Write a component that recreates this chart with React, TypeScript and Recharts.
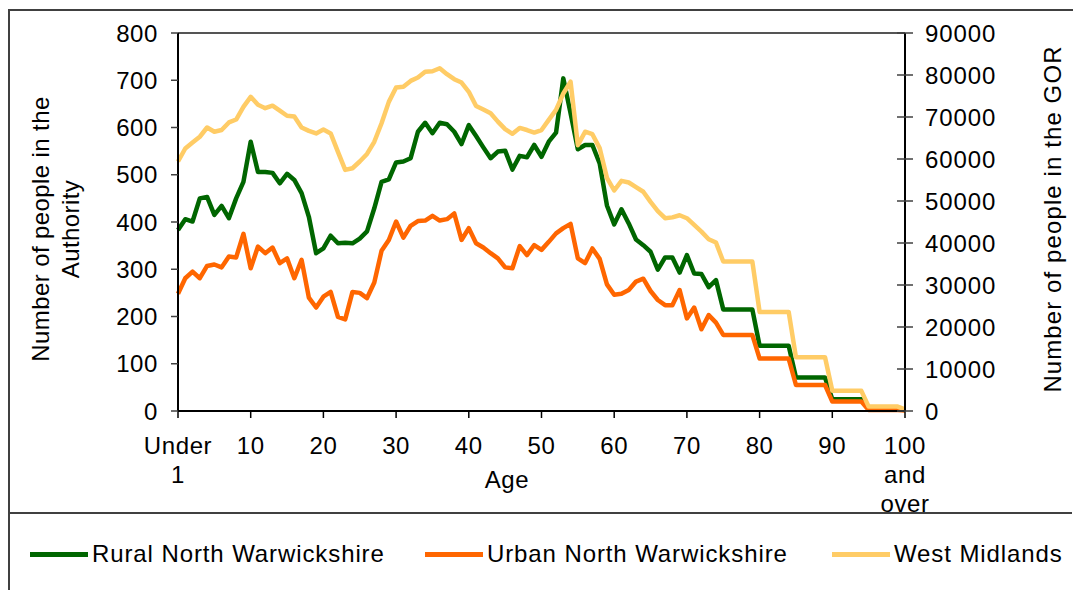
import React from 'react';
import { LineChart, Line, XAxis, YAxis, Legend, ReferenceLine } from 'recharts';

const FONT = '"Liberation Sans", Arial, Helvetica, sans-serif';

const ages = [
  0, 1, 2, 3, 4, 5, 6, 7, 8, 9, 10, 11, 12, 13, 14, 15, 16, 17, 18, 19,
  20, 21, 22, 23, 24, 25, 26, 27, 28, 29, 30, 31, 32, 33, 34, 35, 36, 37, 38, 39,
  40, 41, 42, 43, 44, 45, 46, 47, 48, 49, 50, 51, 52, 53, 54, 55, 56, 57, 58, 59,
  60, 61, 62, 63, 64, 65, 66, 67, 68, 69, 70, 71, 72, 73, 74, 75, 76, 77, 78, 79,
  80, 81, 82, 83, 84, 85, 86, 87, 88, 89, 90, 91, 92, 93, 94, 95, 96, 97, 98, 99, 100,
];

const ruralNorthWarwickshire = [
  383, 406, 401, 450, 453, 415, 434, 408, 450, 485,
  570, 506, 506, 504, 482, 502, 489, 461, 411, 334,
  344, 371, 355, 356, 355, 365, 380, 429, 485, 490,
  526, 528, 535, 591, 610, 588, 610, 607, 591, 565,
  605, 582, 558, 535, 549, 551, 511, 540, 537, 563,
  538, 570, 589, 704, 630, 554, 563, 563, 524, 435,
  395, 427, 397, 363, 351, 337, 299, 325, 325, 293,
  330, 291, 290, 262, 277, 215, 215, 215, 215, 215,
  138, 138, 138, 138, 138, 71, 71, 71, 71, 71,
  25, 25, 25, 25, 25, 4, 4, 4, 4, 4, 2,
];

const urbanNorthWarwickshire = [
  248, 281, 295, 281, 307, 310, 304, 327, 325, 375,
  302, 348, 334, 346, 313, 323, 281, 320, 240, 219,
  242, 252, 199, 194, 252, 250, 239, 272, 339, 362,
  401, 367, 392, 402, 403, 413, 403, 406, 418, 362,
  387, 355, 346, 334, 323, 304, 302, 349, 330, 351,
  341, 358, 376, 387, 396, 323, 313, 344, 322, 268,
  246, 248, 256, 274, 280, 254, 235, 224, 224, 256,
  196, 219, 173, 203, 187, 161, 161, 161, 161, 161,
  111, 111, 111, 111, 111, 55, 55, 55, 55, 55,
  20, 20, 20, 20, 20, 2, 2, 2, 2, 2, 1,
];

const westMidlands = [
  59400, 62500, 63900, 65300, 67500, 66500, 66900, 68700, 69400, 72400,
  74800, 72900, 72100, 72700, 71500, 70300, 70100, 67500, 66700, 66100,
  67000, 66100, 61700, 57400, 57800, 59400, 61200, 64100, 68500, 73600,
  77000, 77200, 78600, 79400, 80800, 80900, 81600, 80200, 79000, 78200,
  76000, 72600, 71800, 70900, 68900, 67100, 66000, 67400, 66900, 66300,
  66900, 69300, 71700, 75600, 78400, 63300, 66500, 65900, 62600, 55500,
  52500, 54800, 54400, 53300, 52200, 49800, 47600, 45900, 46100, 46600,
  45900, 44300, 42700, 40900, 40100, 35600, 35600, 35600, 35600, 35600,
  23600, 23600, 23600, 23600, 23600, 12800, 12800, 12800, 12800, 12800,
  4800, 4800, 4800, 4800, 4800, 1050, 1050, 1050, 1050, 1050, 400,
];

const xTicks = [0, 10, 20, 30, 40, 50, 60, 70, 80, 90, 100];
const xTickLabels: Record<number, string[]> = {
  0: ['Under', '1'],
  100: ['100', 'and', 'over'],
};
const leftTicks = [0, 100, 200, 300, 400, 500, 600, 700, 800];
const rightTicks = [0, 10000, 20000, 30000, 40000, 50000, 60000, 70000, 80000, 90000];

const seriesNames = ['Rural North Warwickshire', 'Urban North Warwickshire', 'West Midlands'];
const seriesKeys = ['rural', 'urban', 'wm'];
const seriesColors = ['#006600', '#FF6600', '#FFCC66'];
const legendOffsets = [20, 415, 822];

const data = ages.map((age, i) => ({
  age,
  rural: ruralNorthWarwickshire[i],
  urban: urbanNorthWarwickshire[i],
  wm: westMidlands[i],
}));

const TEXT = { fontFamily: FONT, fontSize: 24, fill: '#000' };

const XTick = (props: any) => {
  const { x, y, payload } = props;
  const lines = xTickLabels[payload.value] ?? [String(payload.value)];
  return (
    <text textAnchor="middle" {...TEXT} letterSpacing={0.6}>
      {lines.map((l, i) => (
        <tspan key={i} x={x} y={y + 34 + i * 29}>
          {l}
        </tspan>
      ))}
    </text>
  );
};

const LeftTick = (props: any) => {
  const { x, y, payload } = props;
  return (
    <text x={x} y={y} dy="0.36em" textAnchor="end" {...TEXT} letterSpacing={0.6}>
      {payload.value}
    </text>
  );
};

const RightTick = (props: any) => {
  const { x, y, payload } = props;
  const axisX = x - 20;
  return (
    <g>
      <line x1={axisX - 8} x2={axisX + 8} y1={y} y2={y} stroke="#404040" strokeWidth={1.5} />
      <text x={x} y={y} dy="0.36em" textAnchor="start" {...TEXT} letterSpacing={0.9}>
        {payload.value}
      </text>
    </g>
  );
};

const LeftTitle = (props: any) => {
  const vb = props.viewBox || { x: 68, y: 22, width: 100, height: 378 };
  const cy = vb.y + vb.height / 2 + 7;
  const x1 = vb.x - 38;
  const x2 = vb.x - 8;
  return (
    <g>
      <text x={x1} y={cy} transform={`rotate(-90 ${x1} ${cy})`} textAnchor="middle" dominantBaseline="central" {...TEXT} letterSpacing={0.4}>
        Number of people in the
      </text>
      <text x={x2} y={cy} transform={`rotate(-90 ${x2} ${cy})`} textAnchor="middle" dominantBaseline="central" {...TEXT} letterSpacing={0.4}>
        Authority
      </text>
    </g>
  );
};

const RightTitle = (props: any) => {
  const vb = props.viewBox || { x: 895, y: 22, width: 150, height: 378 };
  const cy = vb.y + vb.height / 2 - 3;
  const x = vb.x + 147;
  return (
    <text x={x} y={cy} transform={`rotate(-90 ${x} ${cy})`} textAnchor="middle" dominantBaseline="central" {...TEXT} letterSpacing={1.1}>
      Number of people in the GOR
    </text>
  );
};

const XTitle = (props: any) => {
  const vb = props.viewBox || { x: 168, y: 400, width: 727, height: 100 };
  return (
    <text x={vb.x + 329} y={vb.y + 68} textAnchor="middle" dominantBaseline="central" {...TEXT} letterSpacing={0.6}>
      Age
    </text>
  );
};

const LegendContent = () => (
  <div style={{ position: 'relative', width: '100%', height: '100%' }}>
    {seriesNames.map((name, i) => (
      <div
        key={name}
        style={{
          position: 'absolute',
          left: legendOffsets[i],
          top: 26,
          height: 28,
          display: 'flex',
          alignItems: 'center',
          fontFamily: FONT,
          fontSize: 24,
          letterSpacing: 0.9,
          color: '#000',
          whiteSpace: 'nowrap',
        }}
      >
        <span style={{ display: 'inline-block', width: 58, height: 5, background: seriesColors[i], marginRight: 4 }} />
        <span>{name}</span>
      </div>
    ))}
  </div>
);

export default function App() {
  return (
    <div
      style={{
        position: 'fixed',
        left: 8,
        top: 9,
        width: 1200,
        height: 700,
        borderLeft: '2px solid #404040',
        borderTop: '2px solid #404040',
        background: '#fff',
      }}
    >
      <LineChart width={1062} height={580} data={data} margin={{ top: 22, right: 17, left: 68, bottom: 80 }}>
        <XAxis
          dataKey="age"
          type="number"
          domain={[0, 100]}
          ticks={xTicks}
          interval={0}
          height={100}
          tickSize={7}
          tickMargin={2}
          axisLine={{ stroke: '#000', strokeWidth: 2 }}
          tickLine={{ stroke: '#000', strokeWidth: 1.5 }}
          tick={<XTick />}
          label={<XTitle />}
        />
        <YAxis
          yAxisId="left"
          orientation="left"
          domain={[0, 800]}
          ticks={leftTicks}
          interval={0}
          width={100}
          tickSize={7}
          tickMargin={13}
          axisLine={{ stroke: '#000', strokeWidth: 2 }}
          tickLine={{ stroke: '#404040', strokeWidth: 1.5 }}
          tick={<LeftTick />}
          label={<LeftTitle />}
        />
        <YAxis
          yAxisId="right"
          orientation="right"
          domain={[0, 90000]}
          ticks={rightTicks}
          interval={0}
          width={150}
          tickSize={8}
          tickMargin={12}
          axisLine={{ stroke: '#000', strokeWidth: 2 }}
          tickLine={false}
          tick={<RightTick />}
          label={<RightTitle />}
        />
        <ReferenceLine yAxisId="left" y={800} stroke="#555" strokeWidth={2} />
        <Line yAxisId="left" type="linear" dataKey={seriesKeys[0]} name={seriesNames[0]} stroke={seriesColors[0]} strokeWidth={4.5} dot={false} isAnimationActive={false} strokeLinejoin="round" />
        <Line yAxisId="left" type="linear" dataKey={seriesKeys[1]} name={seriesNames[1]} stroke={seriesColors[1]} strokeWidth={4.5} dot={false} isAnimationActive={false} strokeLinejoin="round" />
        <Line yAxisId="right" type="linear" dataKey={seriesKeys[2]} name={seriesNames[2]} stroke={seriesColors[2]} strokeWidth={4.5} dot={false} isAnimationActive={false} strokeLinejoin="round" />
        <Legend
          layout="horizontal"
          verticalAlign="middle"
          align="center"
          content={<LegendContent />}
          wrapperStyle={{ top: 501, left: 0, width: 1062, height: 79, borderTop: '2px solid #404040', margin: 0, padding: 0 }}
        />
      </LineChart>
    </div>
  );
}
